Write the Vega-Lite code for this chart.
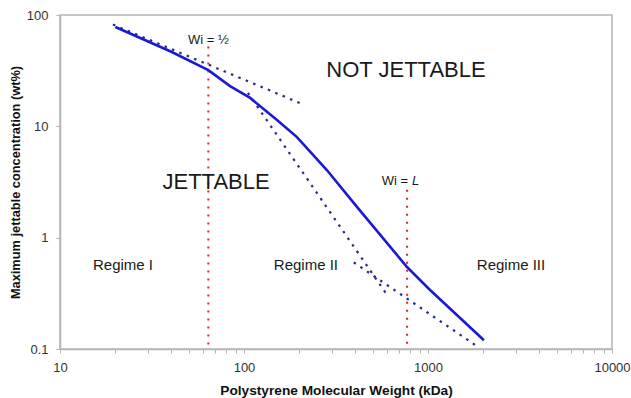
{
  "$schema": "https://vega.github.io/schema/vega-lite/v6.json",
  "width": 552,
  "height": 334,
  "autosize": {"type": "none"},
  "padding": {"left": 60, "top": 15, "right": 19, "bottom": 49},
  "background": "white",
  "config": {
    "font": "Liberation Sans",
    "view": {"stroke": "#b5b5b5", "strokeWidth": 1.5},
    "axis": {
      "grid": false,
      "domainColor": "#b5b5b5",
      "domainWidth": 1.5,
      "tickColor": "#b5b5b5",
      "labelFont": "Liberation Sans",
      "labelFontSize": 13,
      "labelColor": "#333333",
      "labelFlush": false,
      "labelOverlap": false,
      "titleFont": "Liberation Sans",
      "titleFontSize": 13,
      "titleFontWeight": "bold",
      "titleColor": "#111111"
    }
  },
  "datasets": {
    "curve": [
      {"mw": 20, "c": 78},
      {"mw": 40, "c": 47},
      {"mw": 64, "c": 32},
      {"mw": 84, "c": 23},
      {"mw": 108, "c": 18},
      {"mw": 150, "c": 11.5},
      {"mw": 194, "c": 8.0},
      {"mw": 282, "c": 4.05},
      {"mw": 411, "c": 1.89},
      {"mw": 769, "c": 0.545},
      {"mw": 1026, "c": 0.339},
      {"mw": 2014, "c": 0.12}
    ],
    "fits": [
      {"fit": "I", "mw": 19.4, "c": 82},
      {"fit": "I", "mw": 201, "c": 16.2},
      {"fit": "II", "mw": 105, "c": 20},
      {"fit": "II", "mw": 600, "c": 0.305},
      {"fit": "III", "mw": 395, "c": 0.6},
      {"fit": "III", "mw": 1845, "c": 0.106}
    ],
    "vlines": [
      {"mw": 64, "top": 52, "bottom": 0.1},
      {"mw": 770, "top": 2.7, "bottom": 0.1}
    ],
    "labels": [
      {"mw": 22, "c": 0.57, "text": "Regime I", "size": 15},
      {"mw": 217, "c": 0.57, "text": "Regime II", "size": 15},
      {"mw": 2825, "c": 0.57, "text": "Regime III", "size": 15},
      {"mw": 70.5, "c": 3.16, "text": "JETTABLE", "size": 22},
      {"mw": 759, "c": 32, "text": "NOT JETTABLE", "size": 22},
      {"mw": 64, "c": 60, "text": "Wi = ½", "size": 13}
    ],
    "wiL": [
      {"mw": 760, "c": 3.2}
    ]
  },
  "encoding": {
    "x": {
      "field": "mw",
      "type": "quantitative",
      "scale": {"type": "log", "domain": [10, 10000], "nice": false},
      "axis": {
        "title": "Polystyrene Molecular Weight (kDa)",
        "titleFontSize": 13.7,
        "values": [10, 20, 30, 40, 50, 60, 70, 80, 90, 100, 200, 300, 400, 500, 600, 700, 800, 900, 1000, 2000, 3000, 4000, 5000, 6000, 7000, 8000, 9000, 10000],
        "format": "d",
        "labelExpr": "(datum.value == 10 || datum.value == 100 || datum.value == 1000 || datum.value == 10000) ? datum.label : ''",
        "tickSize": 4,
        "labelPadding": 8,
        "titlePadding": 9
      }
    },
    "y": {
      "field": "c",
      "type": "quantitative",
      "scale": {"type": "log", "domain": [0.1, 100], "nice": false},
      "axis": {
        "title": "Maximum jettable concentration (wt%)",
        "titleFontSize": 12.8,
        "values": [0.1, 1, 10, 100],
        "format": "~g",
        "tickSize": 4,
        "labelPadding": 8,
        "titlePadding": 4
      }
    }
  },
  "layer": [
    {
      "data": {"name": "vlines"},
      "mark": {"type": "rule", "color": "#e4212b", "strokeWidth": 2, "strokeDash": [2, 6]},
      "encoding": {
        "y": {"field": "top", "type": "quantitative"},
        "y2": {"field": "bottom"}
      }
    },
    {
      "data": {"name": "fits"},
      "mark": {"type": "line", "color": "#2a2a8c", "strokeWidth": 2.2, "strokeDash": [2.5, 5.5]},
      "encoding": {"detail": {"field": "fit", "type": "nominal"}}
    },
    {
      "data": {"name": "curve"},
      "mark": {"type": "line", "color": "#1a1ad6", "strokeWidth": 2.6}
    },
    {
      "data": {"name": "labels"},
      "mark": {"type": "text", "font": "Liberation Sans", "color": "#1a1a1a", "align": "center", "baseline": "middle"},
      "encoding": {
        "text": {"field": "text"},
        "size": {"field": "size", "type": "quantitative", "scale": null}
      }
    },
    {
      "data": {"name": "wiL"},
      "mark": {"type": "text", "font": "Liberation Sans", "fontSize": 13, "color": "#1a1a1a", "align": "right", "baseline": "middle", "dx": 2},
      "encoding": {"text": {"value": "Wi ="}}
    },
    {
      "data": {"name": "wiL"},
      "mark": {"type": "text", "font": "Liberation Sans", "fontSize": 13, "fontStyle": "italic", "color": "#1a1a1a", "align": "left", "baseline": "middle", "dx": 6},
      "encoding": {"text": {"value": "L"}}
    }
  ]
}
